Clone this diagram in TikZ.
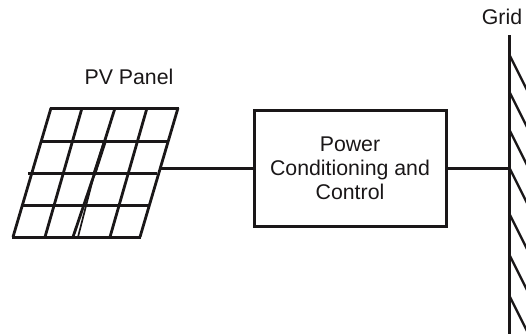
\documentclass[tikz,border=0pt]{standalone}
\usepackage{fontspec}
\setmainfont{Liberation Sans}
\definecolor{ink}{HTML}{1A1718}
\tikzset{
  lbl/.style={font=\fontsize{21.3}{24}\selectfont,text=ink,inner sep=0pt,align=center},
  wire/.style={draw=ink,line width=3pt},
  gridbar/.style={draw=ink,line width=2.9pt},
  cell/.style={draw=ink,line width=2.8pt},
  hatch/.style={draw=ink,line width=2.3pt},
  blockbox/.style={draw=ink,line width=3pt,minimum width=192pt,minimum height=116pt,inner sep=0pt,lbl}
}
\begin{document}
\begin{tikzpicture}[x=1pt,y=-1pt]
\useasboundingbox (0,0) rectangle (526,335);
% PV panel
\foreach \xa/\xb in {51/13,82/45,147/110,178/140}
  \draw[cell] (\xa,108) -- (\xb,237);
\draw[cell] (115,108) -- (94,175) -- (73,237);
\draw[cell,line width=1.7pt] (94,175) -- (78,237);
\draw[cell,line width=3.6pt] (105,141) -- (94,175);
\draw[cell,line width=3pt] (50,108) -- (179,108);
\draw[cell,line width=3pt] (42,141) -- (168,141);
\draw[cell,line width=3pt] (28,173) -- (157,173);
\draw[cell,line width=3pt] (22,205) -- (149,205);
\draw[cell,line width=3pt] (12,237) -- (141,237);
\node[lbl] (pvlabel) at (129,77) {PV Panel};
\coordinate (panelout) at (161,168);
% Block
\node[blockbox] (pcc) at (350,168) {\rule{0pt}{1.6pt}Power\\Conditioning and\\Control};
% Grid
\node[lbl] (gridlabel) at (502,17) {Grid};
\coordinate (gridtop) at (509.5,35);
\coordinate (gridbot) at (509.5,334);
\coordinate (gridtap) at (509.5,168);
\draw[gridbar] (gridtop) -- (gridbot);
\begin{scope}
\clip (500,0) rectangle (526,335);
\foreach \y in {55,92,130,168,214,255,296}
  \draw[hatch] (509.5,\y) -- ++(18,36);
\end{scope}
\draw[wire] (panelout) -- (pcc.west);
\draw[wire] (pcc.east) -- (gridtap);
\end{tikzpicture}
\end{document}
